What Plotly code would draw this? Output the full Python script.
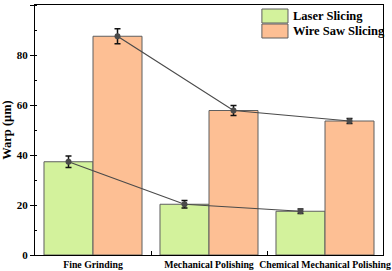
import plotly.graph_objects as go

categories = ["Fine Grinding", "Mechanical Polishing", "Chemical Mechanical Polishing"]
laser = [37.3, 20.3, 17.5]
laser_err = [2.3, 1.5, 0.9]
wire = [87.5, 57.8, 53.6]
wire_err = [3.0, 2.0, 1.0]
series_names = ["Laser Slicing", "Wire Saw Slicing"]
colors = ["#d3f29c", "#fdbf94"]

FONT = "Liberation Serif, Times New Roman, DejaVu Serif, serif"

fig = go.Figure()
for name, vals, col, og in [(series_names[0], laser, colors[0], "a"), (series_names[1], wire, colors[1], "b")]:
    fig.add_trace(go.Bar(x=categories, y=vals, name=name, marker=dict(color=col, line=dict(color="#5f5f5f", width=1)),
                         offsetgroup=og, showlegend=False))
for vals, errs, og in [(laser, laser_err, "a"), (wire, wire_err, "b")]:
    fig.add_trace(go.Scatter(x=categories, y=vals, mode="lines+markers", offsetgroup=og,
                             line=dict(color="#4a4a4a", width=1.2),
                             marker=dict(color="#4a4a4a", size=6),
                             error_y=dict(type="data", array=errs, color="#111111", thickness=1.5, width=3),
                             showlegend=False))

# custom legend
for i, (name, col) in enumerate(zip(series_names, colors)):
    y1 = 0.984 - i * 0.06
    fig.add_shape(type="rect", xref="paper", yref="paper", x0=0.652, x1=0.727, y0=y1 - 0.056, y1=y1,
                  fillcolor=col, line=dict(color="#5f5f5f", width=1))
    fig.add_annotation(xref="paper", yref="paper", x=0.737, y=y1 - 0.028, text="<b>%s</b>" % name,
                       showarrow=False, xanchor="left", yanchor="middle",
                       font=dict(family=FONT, size=12.5, color="black"))

fig.update_layout(
    width=392, height=271,
    margin=dict(l=35, r=9, t=5, b=16),
    plot_bgcolor="white", paper_bgcolor="white",
    barmode="group", bargap=0.155, bargroupgap=0, scattermode="group",
    font=dict(family=FONT, color="black"),
    xaxis=dict(showline=True, linecolor="black", linewidth=1.2, mirror=True,
               ticks="inside", ticklen=4, tickson="boundaries", tickcolor="black",
               tickangle=0, automargin=False,
               tickfont=dict(family=FONT, size=9.8, color="black", weight="bold"),
               range=[-0.5, 2.5]),
    yaxis=dict(range=[0, 100], dtick=20, showline=True, linecolor="black", linewidth=1.2, mirror=True,
               ticks="outside", ticklen=4, tickcolor="black", showgrid=False, zeroline=False,
               automargin=False,
               minor=dict(dtick=10, ticks="inside", ticklen=2, tickcolor="black"),
               tickfont=dict(family=FONT, size=11, color="black", weight="bold"),
               title=dict(text="<b>Warp (μm)</b>", font=dict(family=FONT, size=12.5, color="black"), standoff=5)),
)
fig.write_html("out.html", config={"displayModeBar": False},
               post_script="document.body.style.margin='0';")
